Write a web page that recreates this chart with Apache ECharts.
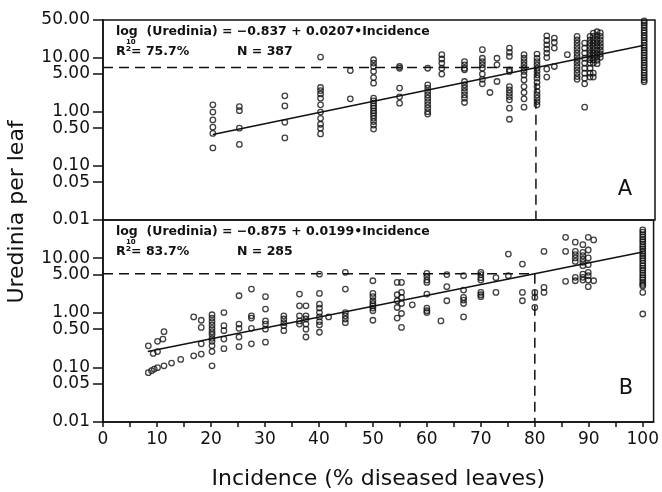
<!DOCTYPE html>
<html>
<head>
<meta charset="utf-8">
<script src="https://cdn.jsdelivr.net/npm/echarts@6/dist/echarts.min.js"></script>
<style>
html,body{margin:0;padding:0;background:#fff;}
#chart{width:662px;height:492px;}
</style>
</head>
<body>
<div id="chart"></div>
<script>
// ---- Panel A data: incidence columns and uredinia per leaf at each column ----
const topIncidence = [20.3, 25.2, 33.6, 40.2, 45.7, 50.0, 54.8, 60.0, 62.6, 66.8, 70.1, 71.5, 72.8, 75.1, 77.8, 80.2, 82.0, 83.4, 85.8, 87.6, 89.0, 90.0, 90.6, 91.3, 91.9, 100];
const topUredinia = [
  [1.35, 0.99, 0.71, 0.52, 0.40, 0.215],
  [1.25, 1.05, 0.5, 0.25],
  [1.98, 1.29, 0.64, 0.33],
  [10.3, 2.82, 2.48, 2.15, 1.79, 1.35, 0.99, 0.76, 0.59, 0.50, 0.39],
  [5.8, 1.74],
  [9.2, 8.0, 6.9, 5.6, 4.3, 3.4, 1.79, 1.6, 1.45, 1.29, 1.17, 1.04, 0.95, 0.85, 0.76, 0.66, 0.57, 0.48],
  [6.9, 6.4, 2.75, 1.9, 1.45],
  [6.4, 3.16, 2.75, 2.38, 2.06, 1.79, 1.55, 1.35, 1.17, 1.01, 0.91],
  [11.4, 9.5, 8.0, 6.4, 5.0],
  [8.5, 7.4, 6.4, 6.0, 3.64, 3.16, 2.75, 2.38, 2.06, 1.79, 1.49],
  [14.1, 9.8, 8.5, 7.4, 6.4, 5.0, 4.0, 3.3],
  [2.28],
  [9.8, 7.4, 3.64],
  [15.1, 12.6, 10.6, 6.0, 5.6, 2.94, 2.55, 2.22, 1.92, 1.67, 1.17, 0.73],
  [11.4, 9.8, 8.5, 7.4, 6.4, 5.6, 4.8, 3.9, 2.94, 2.28, 1.74, 1.22],
  [11.7, 9.8, 8.5, 7.4, 6.4, 5.6, 4.8, 4.2, 3.5, 2.94, 2.38, 2.06, 1.79, 1.55, 1.35],
  [25.5, 20.9, 17.4, 14.5, 12.2, 10.1, 6.2, 4.4],
  [23.2, 19.2, 15.1, 6.9],
  [11.4],
  [24.8, 21.5, 18.7, 16.2, 14.1, 12.2, 10.6, 9.2, 8.0, 6.9, 6.0, 5.2, 4.5, 4.0],
  [18.7, 15.1, 12.2, 9.8, 8.0, 6.4, 5.2, 4.2, 3.3, 1.22],
  [24.8, 21.5, 18.7, 16.2, 14.1, 12.2, 10.6, 9.2, 8.0, 6.4, 5.2, 4.4],
  [28.7, 24.8, 21.5, 18.7, 16.2, 14.1, 12.2, 10.6, 9.2, 8.0, 5.2, 4.4],
  [30.3, 26, 22, 19, 16.5, 14, 12, 10.5, 9, 7.8],
  [29, 25, 21.5, 18.5, 16, 13.8, 11.8, 10.2],
  [48, 44, 40, 36, 32, 29, 26, 23.5, 21, 19, 17, 15.3, 13.8, 12.4, 11.2, 10, 9, 8.1, 7.3, 6.6, 5.9, 5.3, 4.8, 4.3, 3.9, 3.6]
];

// ---- Panel B data ----
const botIncidence = [8.4, 9.0, 9.3, 9.5, 10.1, 11.1, 11.3, 12.7, 14.4, 16.8, 18.2, 20.2, 22.4, 25.2, 27.5, 30.1, 33.5, 36.4, 37.6, 40.1, 41.8, 44.9, 50.0, 54.5, 55.3, 57.3, 60.0, 62.6, 63.7, 66.8, 70.0, 72.8, 75.1, 77.7, 80.0, 81.7, 85.7, 87.5, 88.9, 89.9, 90.9, 100];
const botUredinia = [
  [0.080, 0.248],
  [0.087],
  [0.18],
  [0.093],
  [0.099, 0.195, 0.30],
  [0.33],
  [0.107, 0.45],
  [0.12],
  [0.14],
  [0.163, 0.84],
  [0.175, 0.73, 0.54, 0.27],
  [0.92, 0.80, 0.69, 0.60, 0.52, 0.45, 0.40, 0.34, 0.30, 0.25, 0.195, 0.107],
  [1.01, 0.58, 0.47, 0.33, 0.22],
  [2.05, 0.62, 0.52, 0.36, 0.24],
  [2.72, 0.88, 0.80, 0.52, 0.27],
  [1.97, 1.17, 0.71, 0.62, 0.50, 0.29],
  [0.88, 0.77, 0.66, 0.58, 0.47],
  [2.2, 1.34, 0.88, 0.71, 0.62],
  [1.34, 0.88, 0.77, 0.62, 0.50, 0.36],
  [5.1, 2.26, 1.44, 1.22, 1.01, 0.84, 0.69, 0.60, 0.44],
  [0.84],
  [5.5, 2.72, 1.01, 0.88, 0.77, 0.66],
  [3.86, 2.26, 1.97, 1.66, 1.48, 1.34, 1.22, 1.09, 0.73],
  [3.6, 2.14, 1.66, 1.25, 0.80],
  [3.6, 2.36, 1.91, 1.48, 0.97, 0.54],
  [1.40],
  [5.26, 4.6, 3.97, 3.6, 2.2, 1.22, 1.09, 1.01],
  [0.71],
  [5.0, 3.0, 1.66],
  [4.77, 2.61, 1.91, 1.71, 1.48, 0.84],
  [5.5, 5.0, 4.4, 3.97, 2.36, 2.14, 1.97],
  [4.4, 2.36],
  [11.9, 4.77],
  [7.8, 2.36, 1.66],
  [2.36, 1.91, 1.25],
  [13.3, 2.91, 2.36],
  [24.1, 13.3, 3.76],
  [19.6, 13.3, 11.6, 10.1, 8.7, 4.45, 3.86],
  [17.7, 12.8, 11.1, 9.6, 8.4, 7.3, 5.1, 4.45, 3.97],
  [24.1, 14.1, 10.1, 7.6, 5.5, 4.77, 3.97, 3.0],
  [21.6, 3.86],
  [33, 30, 27, 24.5, 22, 20, 18, 16.3, 14.8, 13.4, 12.1, 11, 10, 9, 8.1, 7.3, 6.6, 6, 5.4, 4.9, 4.4, 4, 3.6, 3.3, 3.1, 2.36, 0.95]
];

// ---- Regression fits: log10(Uredinia) = intercept + slope * Incidence ----
const fitIntercept = [-0.837, -0.875];
const fitSlope = [0.0207, 0.0199];
const fitFrom = [20.3, 8.3];
const fitTo = [100, 100];
const refIncidence = 80;

// ---- Axis ticks ----
const yTickValues = [0.01, 0.05, 0.1, 0.5, 1, 5, 10, 50];
const xLabelValues = [0, 10, 20, 30, 40, 50, 60, 70, 80, 90, 100];
const xTickValues = [0, 5, 10, 15, 20, 25, 30, 35, 40, 45, 50, 55, 60, 65, 70, 75, 80, 85, 90, 95, 100];
const yMin = 0.01, yMax = 50, xMin = 0, xMax = 102;

const L = Math.log10;
function points(xs, ys) {
  const out = [];
  xs.forEach((x, i) => ys[i].forEach(v => out.push([x, L(v)])));
  return out;
}
function fitLine(k) {
  return [[fitFrom[k], fitIntercept[k] + fitSlope[k] * fitFrom[k]],
          [fitTo[k], fitIntercept[k] + fitSlope[k] * fitTo[k]]];
}
function refLine(k) {
  const v = fitIntercept[k] + fitSlope[k] * refIncidence;
  return [[xMin, v], [refIncidence, v], [refIncidence, L(yMin)]];
}

const INK = '#111';
const numFont = 'DejaVu Sans';
const yLogTicks = yTickValues.map(L);

// showTop: whether the top tick (50.00) carries a label on this panel
function yAxisCfg(gi, showTop) {
  return {
    gridIndex: gi, type: 'value', min: L(yMin), max: L(yMax),
    axisLine: {show: true, onZero: false, lineStyle: {color: INK, width: 1.5}},
    axisTick: {show: true, inside: false, length: 10, customValues: yLogTicks, lineStyle: {color: INK, width: 1.5}},
    axisLabel: {customValues: yLogTicks, margin: 13, color: INK, fontFamily: numFont, fontSize: 17,
      formatter: v => (!showTop && v >= L(yMax) - 1e-9) ? '' : Math.pow(10, v).toFixed(2)},
    splitLine: {show: false}
  };
}

const scatterStyle = {color: 'rgba(255,255,255,0)', borderColor: INK, borderWidth: 1.3};
const annFont = 'bold 12.5px "DejaVu Sans"';

const chart = echarts.init(document.getElementById('chart'), null, {renderer: 'canvas'});
chart.setOption({
  animation: false,
  backgroundColor: '#fff',
  grid: [
    {left: 103, top: 20, width: 552, height: 200, show: true, borderColor: INK, borderWidth: 1.5, backgroundColor: 'transparent'},
    {left: 103, top: 220, width: 552, height: 202, show: true, borderColor: INK, borderWidth: 1.5, backgroundColor: 'transparent'}
  ],
  xAxis: [
    {gridIndex: 0, type: 'value', min: xMin, max: xMax, axisLine: {show: false, onZero: false}, axisTick: {show: false}, axisLabel: {show: false}, splitLine: {show: false}},
    {gridIndex: 1, type: 'value', min: xMin, max: xMax,
      axisLine: {show: true, onZero: false, lineStyle: {color: INK, width: 1.5}},
      axisTick: {show: true, inside: false, length: 5, customValues: xTickValues, lineStyle: {color: INK, width: 1.5}},
      axisLabel: {customValues: xLabelValues, margin: 9, color: INK, fontFamily: numFont, fontSize: 17, showMaxLabel: true, showMinLabel: true},
      splitLine: {show: false},
      name: 'Incidence (% diseased leaves)', nameLocation: 'middle', nameGap: 46,
      nameTextStyle: {color: INK, fontFamily: numFont, fontSize: 22}}
  ],
  yAxis: [
    yAxisCfg(0, true),
    yAxisCfg(1, false)
  ],
  graphic: [
    {type: 'text', x: 17, y: 212, rotation: Math.PI / 2,
      style: {text: 'Uredinia per leaf', fill: INK, font: '22px "DejaVu Sans"', align: 'center', verticalAlign: 'middle'}},
    {type: 'text', left: 116, top: 25.5, style: {text: 'log  (Uredinia) = −0.837 + 0.0207•Incidence', fill: INK, font: annFont}},
    {type: 'text', left: 126, top: 39, style: {text: '10', fill: INK, font: 'bold 7px "DejaVu Sans"'}},
    {type: 'text', left: 116, top: 45, style: {text: 'R²= 75.7%', fill: INK, font: annFont}},
    {type: 'text', left: 237, top: 45, style: {text: 'N = 387', fill: INK, font: annFont}},
    {type: 'text', left: 116, top: 225.5, style: {text: 'log  (Uredinia) = −0.875 + 0.0199•Incidence', fill: INK, font: annFont}},
    {type: 'text', left: 126, top: 239, style: {text: '10', fill: INK, font: 'bold 7px "DejaVu Sans"'}},
    {type: 'text', left: 116, top: 245, style: {text: 'R²= 83.7%', fill: INK, font: annFont}},
    {type: 'text', left: 237, top: 245, style: {text: 'N = 285', fill: INK, font: annFont}},
    {type: 'text', x: 625, y: 190, style: {text: 'A', fill: INK, font: '21px "DejaVu Sans"', align: 'center', verticalAlign: 'middle'}},
    {type: 'text', x: 626, y: 389, style: {text: 'B', fill: INK, font: '21px "DejaVu Sans"', align: 'center', verticalAlign: 'middle'}}
  ],
  series: [
    {type: 'scatter', xAxisIndex: 0, yAxisIndex: 0, data: points(topIncidence, topUredinia), symbol: 'circle', symbolSize: 5.5, itemStyle: scatterStyle, z: 3},
    {type: 'scatter', xAxisIndex: 1, yAxisIndex: 1, data: points(botIncidence, botUredinia), symbol: 'circle', symbolSize: 5.5, itemStyle: scatterStyle, z: 3},
    {type: 'line', xAxisIndex: 0, yAxisIndex: 0, data: fitLine(0), showSymbol: false, lineStyle: {color: INK, width: 1.5}, z: 4},
    {type: 'line', xAxisIndex: 1, yAxisIndex: 1, data: fitLine(1), showSymbol: false, lineStyle: {color: INK, width: 1.5}, z: 4},
    {type: 'line', xAxisIndex: 0, yAxisIndex: 0, data: refLine(0), showSymbol: false, lineStyle: {color: INK, width: 1.5, type: [10, 6]}, z: 2},
    {type: 'line', xAxisIndex: 1, yAxisIndex: 1, data: refLine(1), showSymbol: false, lineStyle: {color: INK, width: 1.5, type: [10, 6]}, z: 2}
  ]
});
</script>
</body>
</html>
